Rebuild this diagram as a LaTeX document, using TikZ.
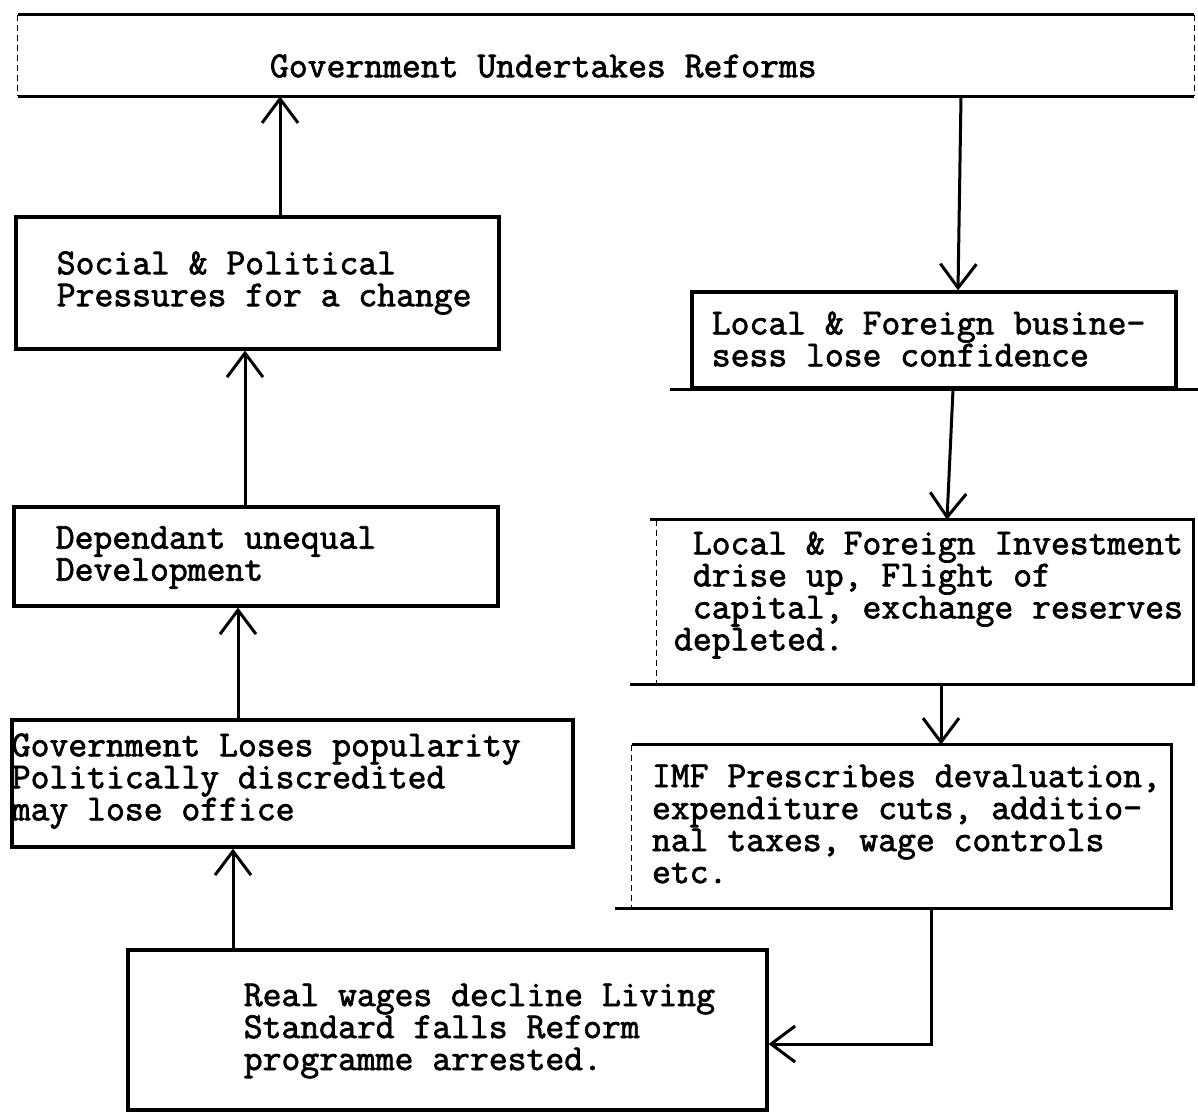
\documentclass[tikz,border=0pt]{standalone}
\usepackage{fontspec}
\newfontfamily\twriter{Latin Modern Mono}[FakeBold=2]
\usetikzlibrary{arrows.meta,calc}
\begin{document}
\begin{tikzpicture}[x=0.5pt,y=-0.5pt,
  txt/.style={font=\twriter\fontsize{18.3pt}{16pt}\selectfont, align=left, inner sep=0pt, anchor=west},
  box/.style={draw, line width=1.6pt, inner sep=0pt},
  frame/.style={inner sep=0pt},
  edge/.style={line width=1.6pt},
  side/.style={line width=0.7pt, densely dashed},
  arr/.style={line width=1.5pt, -{Straight Barb[length=12pt,width=18pt,line width=1.5pt]}}]
\useasboundingbox (0,0) rectangle (1198,1116);

% boxes
\node[frame, minimum width=588pt, minimum height=40.5pt] (top) at (606,55.5) {};
\node[box, minimum width=241.5pt, minimum height=66pt] (social) at (257.5,283) {};
\node[box, minimum width=242pt, minimum height=49.5pt] (dep) at (256,556.5) {};
\node[box, minimum width=280.5pt, minimum height=63.5pt] (gov) at (292.5,783.5) {};
\node[box, minimum width=319.5pt, minimum height=80pt] (real) at (447.5,1030) {};
\node[box, minimum width=242pt, minimum height=48pt] (bus) at (934,340) {};
\node[frame, minimum width=268pt, minimum height=82pt] (inv) at (925,602) {};
\node[frame, minimum width=269.5pt, minimum height=81.5pt] (imf) at (901.5,826.5) {};

% frame edges
\draw[edge] (top.north west) -- (top.north east);
\draw[edge] (top.south west) -- (top.south east);
\draw[side] (top.north west) -- (top.south west);
\draw[side] (top.north east) -- (top.south east);
\draw[edge] ($(inv.north west)+(-7,0)$) -- (inv.north east) -- (inv.south east) -- ($(inv.south west)+(-27,0)$);
\draw[side] (inv.north west) -- (inv.south west);
\draw[edge] (imf.north west) -- (imf.north east) -- (imf.south east) -- ($(imf.south west)+(-17,0)$);
\draw[side] (imf.north west) -- (imf.south west);
\draw[edge] ($(bus.south west)+(-20,0)$) -- ($(bus.south east)+(22,0)$);

% texts
\node[txt] (topt) at ($(top.west)+(252,10.5)$) {Government Undertakes Reforms};
\node[txt] (socialt) at ($(social.west)+(42,0)$) {Social \& Political\\Pressures for a change};
\node[txt] (dept) at ($(dep.west)+(43,1)$) {Dependant unequal\\Development};
\node[txt] (govt) at ($(gov.west)+(1,-2.5)$) {Government Loses popularity\\Politically discredited\\may lose office};
\node[txt] (realt) at ($(real.west)+(117,1)$) {Real wages decline Living\\Standard falls Reform\\programme arrested.};
\node[txt] (bust) at ($(bus.west)+(21,-1)$) {Local \& Foreign busine-\\sess lose confidence};
\node[txt] (invt) at ($(inv.west)+(17,-7)$) {\hphantom{x}Local \& Foreign Investment\\\hphantom{x}drise up, Flight of\\\hphantom{x}capital, exchange reserves\\depleted.};
\node[txt] (imft) at ($(imf.west)+(20,-2.5)$) {IMF Prescribes devaluation,\\expenditure cuts, additio-\\nal taxes, wage controls\\etc.};

% connectors
\coordinate (c1) at (280,0);
\draw[arr] (c1 |- social.north) -- (c1 |- top.south);
\coordinate (c2) at (245,0);
\draw[arr] (c2 |- dep.north) -- (c2 |- social.south);
\coordinate (c3) at (238,0);
\draw[arr] (c3 |- gov.north) -- (c3 |- dep.south);
\coordinate (c4) at (233,0);
\draw[arr] (c4 |- real.north) -- (c4 |- gov.south);
\coordinate (c5) at (961,0);
\coordinate (c5b) at (958,0);
\draw[arr] (c5 |- top.south) -- (c5b |- bus.north);
\coordinate (c6) at (953,0);
\coordinate (c6b) at (947,0);
\draw[arr] (c6 |- bus.south) -- (c6b |- inv.north);
\coordinate (c7) at (941,0);
\draw[arr] (c7 |- inv.south) -- (c7 |- imf.north);
\coordinate (c8) at (931,1044);
\draw[arr] (c8 |- imf.south) -- (c8) -- (c8 -| real.east);
\end{tikzpicture}
\end{document}
